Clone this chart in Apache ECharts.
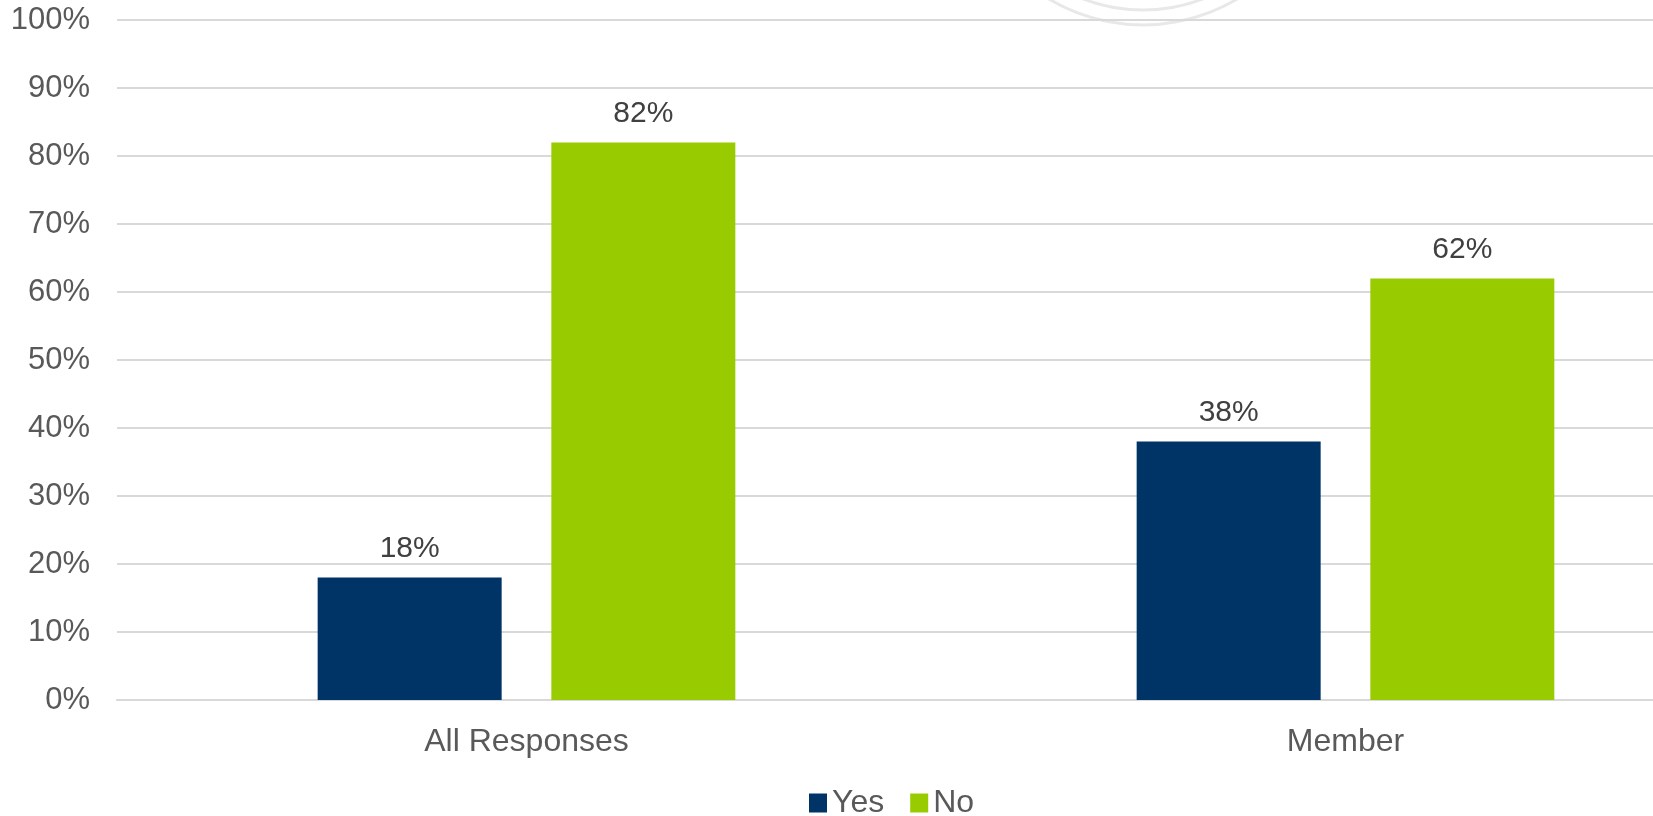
<!DOCTYPE html>
<html><head><meta charset="utf-8">
<script src="https://cdn.jsdelivr.net/npm/echarts@6/dist/echarts.min.js"></script>
<style>html,body{margin:0;padding:0;background:#fff}#c{width:1653px;height:816px}</style>
</head><body><div id="c"></div>
<script>
const categories = ['All Responses', 'Member'];
const yesValues = [18, 38];
const noValues = [82, 62];
const seriesNames = ['Yes', 'No'];

const chart = echarts.init(document.getElementById('c'));
const font = 'Liberation Sans, Arial, sans-serif';
chart.setOption({
  animation: false,
  backgroundColor: '#ffffff',
  textStyle: { fontFamily: font },
  graphic: [
    { type: 'circle', shape: { cx: 1143, cy: -158, r: 183 }, style: { fill: 'none', stroke: '#e8e8e8', lineWidth: 3 }, z: -1 },
    { type: 'circle', shape: { cx: 1143, cy: -158, r: 168 }, style: { fill: 'none', stroke: '#e8e8e8', lineWidth: 3 }, z: -1 }
  ],
  legend: {
    data: seriesNames,
    left: 809, top: 787, padding: 0,
    itemWidth: 18, itemHeight: 19, itemGap: 26,
    icon: 'rect',
    textStyle: { fontSize: 32, color: '#595959', fontFamily: font }
  },
  grid: { left: 117, width: 1638, top: 20, height: 680, containLabel: false, outerBoundsMode: 'none' },
  xAxis: {
    type: 'category', data: categories,
    axisLine: { show: true, lineStyle: { color: '#d9d9d9', width: 2 } },
    axisTick: { show: false },
    axisLabel: { fontSize: 32, color: '#595959', margin: 26, fontFamily: font }
  },
  yAxis: {
    type: 'value', min: 0, max: 100, interval: 10,
    axisLine: { show: false }, axisTick: { show: false },
    splitLine: { lineStyle: { color: '#d9d9d9', width: 2 } },
    axisLabel: { formatter: '{value}%', fontSize: 31, color: '#595959', margin: 27, fontFamily: font }
  },
  series: [
    { name: 'Yes', type: 'bar', data: yesValues, barWidth: 184, barGap: '27%',
      itemStyle: { color: '#003366' },
      label: { show: true, position: 'top', distance: 14, formatter: '{c}%', fontSize: 30, color: '#404040', fontFamily: font } },
    { name: 'No', type: 'bar', data: noValues, barWidth: 184, barGap: '27%',
      itemStyle: { color: '#99cc00' },
      label: { show: true, position: 'top', distance: 14, formatter: '{c}%', fontSize: 30, color: '#404040', fontFamily: font } }
  ]
});
</script></body></html>
